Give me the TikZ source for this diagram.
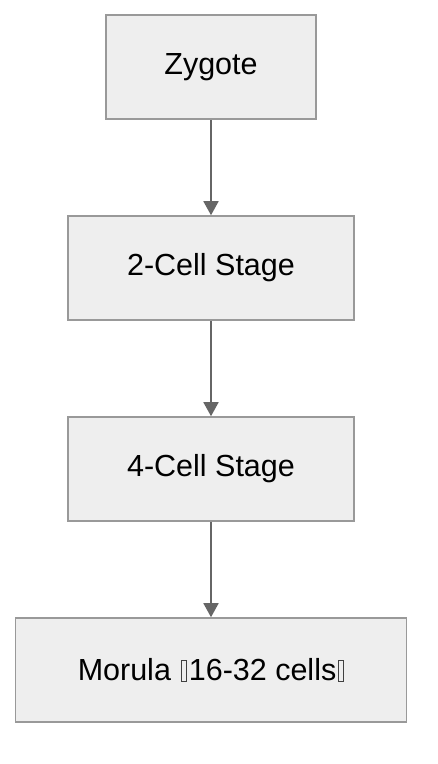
\documentclass[tikz,border=0pt]{standalone}
\usepackage{fontspec}
\setmainfont{Liberation Sans}
\usetikzlibrary{arrows.meta}
\definecolor{boxfill}{HTML}{EEEEEE}
\definecolor{boxline}{HTML}{999999}
\definecolor{arrowcol}{HTML}{666666}
\newcommand{\tofubox}{\hspace{1.5pt}\tikz[baseline=0pt]\draw[line width=0.9pt,black!75] (0,-1pt) rectangle (5.5pt,20pt);\hspace{1.5pt}}
\begin{document}
\begin{tikzpicture}[x=1pt,y=-1pt,
  stage/.style={draw=boxline,fill=boxfill,line width=1.6pt,minimum height=104pt,inner sep=0pt,font=\fontsize{30.5}{36}\selectfont},
  flow/.style={draw=arrowcol,line width=1.8pt,-{Triangle[length=14pt,width=15pt]}}]
\useasboundingbox (0,0) rectangle (438,764);
\node[stage,minimum width=210pt] (z) at (211,67) {Zygote};
\node[stage,minimum width=286pt] (c2) at (211,268) {2-Cell Stage};
\node[stage,minimum width=286pt] (c4) at (211,469) {4-Cell Stage};
\node[stage,minimum width=391pt] (m) at (211,670) {Morula\ \tofubox16-32 cells\tofubox};
\draw[flow] (z) -- (c2);
\draw[flow] (c2) -- (c4);
\draw[flow] (c4) -- (m);
\end{tikzpicture}
\end{document}
